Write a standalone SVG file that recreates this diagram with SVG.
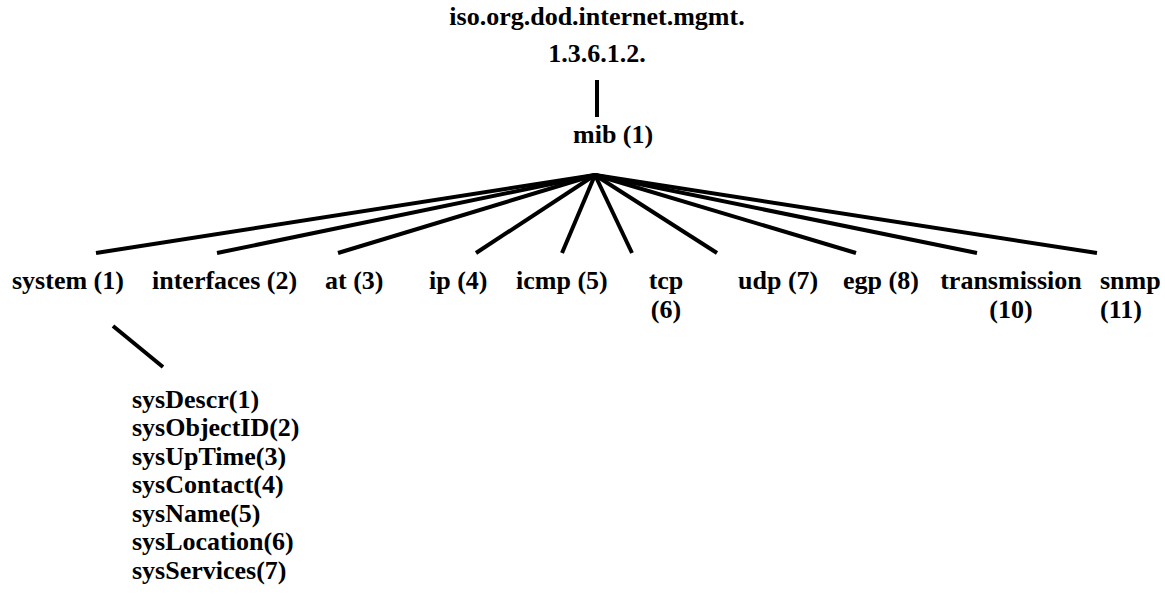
<svg xmlns="http://www.w3.org/2000/svg" width="1165" height="597" viewBox="0 0 1165 597">
  <style>
    text { font-family: "Liberation Serif", "Times New Roman", serif; font-weight: bold; font-size: 26px; fill: #000; }
    .mid { text-anchor: middle; }
    .link { stroke: #000; stroke-width: 4; fill: none; stroke-linecap: butt; }
  </style>
  <rect width="1165" height="597" fill="#fff"/>

  <!-- connectors -->
  <g id="connectors">
    <line class="link" x1="597" y1="80" x2="597" y2="117"/>
    <line class="link" x1="595" y1="175" x2="96" y2="253"/>
    <line class="link" x1="595" y1="175" x2="217" y2="253"/>
    <line class="link" x1="595" y1="175" x2="338" y2="253"/>
    <line class="link" x1="595" y1="175" x2="476" y2="253"/>
    <line class="link" x1="595" y1="175" x2="562" y2="253"/>
    <line class="link" x1="595" y1="175" x2="632" y2="253"/>
    <line class="link" x1="595" y1="175" x2="717" y2="253"/>
    <line class="link" x1="595" y1="175" x2="856" y2="253"/>
    <line class="link" x1="595" y1="175" x2="977" y2="253"/>
    <line class="link" x1="595" y1="175" x2="1097" y2="253"/>
    <line class="link" x1="113" y1="326" x2="163" y2="367"/>
  </g>

  <!-- root -->
  <g id="root">
    <text class="mid" x="597" y="25">iso.org.dod.internet.mgmt.</text>
    <text class="mid" x="597" y="62">1.3.6.1.2.</text>
  </g>

  <g id="mib">
    <text x="573" y="143">mib (1)</text>
  </g>

  <!-- children of mib -->
  <g id="system"><text x="12" y="289">system (1)</text></g>
  <g id="interfaces"><text x="152" y="289">interfaces (2)</text></g>
  <g id="at"><text x="325" y="289">at (3)</text></g>
  <g id="ip"><text x="429" y="289">ip (4)</text></g>
  <g id="icmp"><text x="516" y="289">icmp (5)</text></g>
  <g id="tcp">
    <text class="mid" x="666" y="289">tcp</text>
    <text class="mid" x="666" y="318">(6)</text>
  </g>
  <g id="udp"><text x="738" y="289">udp (7)</text></g>
  <g id="egp"><text x="843" y="289">egp (8)</text></g>
  <g id="transmission">
    <text class="mid" x="1011" y="289">transmission</text>
    <text class="mid" x="1011" y="318">(10)</text>
  </g>
  <g id="snmp">
    <text x="1100" y="289">snmp</text>
    <text x="1100" y="318">(11)</text>
  </g>

  <!-- system group members -->
  <g id="system-objects">
    <text x="132" y="407.5">sysDescr(1)</text>
    <text x="132" y="436">sysObjectID(2)</text>
    <text x="132" y="464.5">sysUpTime(3)</text>
    <text x="132" y="493">sysContact(4)</text>
    <text x="132" y="521.5">sysName(5)</text>
    <text x="132" y="550">sysLocation(6)</text>
    <text x="132" y="578.5">sysServices(7)</text>
  </g>
</svg>
